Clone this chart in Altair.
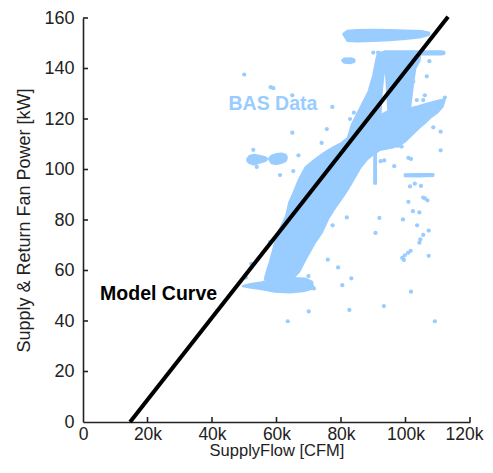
import altair as alt
import pandas as pd

BLUE = "#99ccff"
INK = "#222222"
FONT = "Liberation Sans"
W, H = 387, 404

# ---- scattered BAS readings (x in thousands of CFM, y in kW) ----
pts_x = [50.0, 58.2, 59.0, 64.9, 77.3, 75.6, 64.9, 52.8, 66.8, 61.1, 65.2, 53.9, 74.0,
         90.0, 91.5,
         107.4, 102.4, 106.6, 100.9, 102.4, 106.0, 112.2, 103.5, 105.5,
         108.6, 110.9, 110.9, 98.8, 97.7, 100.9, 101.7, 96.5, 92.3, 93.4,
         101.4, 102.9, 104.8, 105.5, 106.0, 106.8, 100.9, 102.3, 104.3,
         81.8, 91.9, 99.2, 103.6, 77.4, 90.7,
         107.2, 105.5, 104.6, 104.3,
         107.2, 99.0, 99.8, 100.8, 101.6, 99.5,
         75.9, 79.1, 69.9, 71.6, 83.2, 80.4, 101.7,
         93.3, 82.6, 70.0, 63.5, 109.1,
         52.2, 50.5, 58.0,
         82.8, 84.0, 86.0, 87.5, 85.0, 88.3]
pts_y = [137.6, 132.6, 132.2, 129.4, 124.8, 116.0, 114.6, 107.8, 105.6, 97.8, 99.4, 101.0, 110.5,
         146.3, 146.3,
         142.9, 138.8, 136.9, 134.9, 134.9, 129.4, 128.5, 127.5, 127.5,
         116.7, 115.0, 107.6, 109.1, 109.4, 104.6, 104.2, 101.3, 103.3, 103.6,
         93.3, 94.4, 93.5, 88.9, 88.6, 87.8, 87.2, 83.5, 83.0,
         81.0, 80.8, 80.2, 77.9, 77.9, 74.9,
         75.8, 74.1, 72.3, 71.0,
         65.8, 65.0, 66.0, 67.0, 67.8, 64.2,
         64.3, 61.2, 57.8, 52.9, 56.9, 54.2, 51.6,
         45.9, 44.4, 43.8, 39.9, 39.9,
         62.6, 57.2, 71.3,
         120.0, 122.5, 121.5, 123.5, 118.5, 120.3]

# ---- dense regions of BAS readings: x (k CFM) with lower / upper kW bounds ----
band_x = [56.5, 57, 58, 59.5, 61, 63, 64, 65, 67, 69, 72, 74, 76, 78, 80, 82, 84, 86, 88, 90,
          92, 94, 96, 98, 100, 102, 104, 106, 108, 110, 111.5, 112.2]
band_lo = [56.5, 56, 56, 56, 56.5, 56.7, 56.8, 56.9, 59.5, 64.5, 71.3, 75, 80.5, 84.6, 88.2, 92,
           96.4, 100.8, 104, 106, 107.8, 108.3, 108.8, 109.6, 111.3, 113.8, 116.3, 118.5, 120.9,
           122.8, 125, 128]
band_hi = [57, 59.5, 63.4, 70.6, 76.2, 81.5, 87, 89.8, 96, 100.8, 104, 105.8, 107.5, 109, 110.3,
           112.3, 115, 116, 117.5, 119, 121.3, 122.7, 123.5, 123.8, 124.1, 124.4, 125, 125.8,
           126.5, 127.2, 127.6, 128]

spike_x = [81.8, 83.3, 85.9, 88.5, 90, 91, 91.5, 92.1, 92.6, 93.0, 93.6]
spike_lo = [110, 111, 112.8, 114.8, 116, 117.5, 118.2, 119, 131, 136, 141]
spike_hi = [111, 117.5, 124.1, 130.6, 137.1, 143.6, 146, 146.3, 146.4, 146.5, 146.5]

mass_x = [93.6, 94.0, 94.7, 96, 99, 101.4, 102.4, 103, 104.3, 104.5, 111, 112]
mass_lo = [144, 138, 123.5, 123.5, 123.5, 124.5, 135, 140, 143, 145.6, 145.6, 145.8]
mass_hi = [146.8, 146.8, 146.8, 146.8, 146.8, 146.8, 146.8, 146.8, 146.8, 146.8, 146.8, 146.6]

top_x = [80.8, 82, 85, 90, 95, 100, 105, 107.2, 107.4]
top_lo = [153.5, 151, 150.8, 151, 151.3, 151.8, 152.5, 153.3, 153.8]
top_hi = [153.8, 154.9, 155.2, 155.3, 155.2, 155.0, 154.8, 154.2, 153.8]

low_x = [49.6, 52, 55.5, 59.5, 64.2, 68.8, 71.0, 71.3]
low_lo = [53.8, 53.2, 52.6, 51.7, 51.4, 52.0, 52.8, 53.5]
low_hi = [53.8, 54.6, 55.3, 56.8, 57.0, 56.8, 55.5, 53.5]

c143_x = [80.4, 81, 83, 84, 84.2]
c143_lo = [143.2, 142.4, 142.2, 142.6, 143.2]
c143_hi = [143.2, 143.9, 144.0, 143.6, 143.2]

blobA_x = [51.0, 51.6, 53.0, 55.0, 56.5, 57.0]
blobA_lo = [103.4, 102.6, 102.0, 102.8, 103.4, 104.0]
blobA_hi = [104.2, 105.3, 105.8, 105.3, 104.8, 104.2]

blobB_x = [57.8, 58.5, 60.0, 61.5, 62.8, 63.1]
blobB_lo = [104.0, 102.5, 102.2, 102.6, 103.4, 104.3]
blobB_hi = [104.4, 105.4, 106.1, 106.3, 105.8, 105.0]

vert_x = [90.35, 90.8]
vert_lo = [94.4, 94.4]
vert_hi = [106.4, 106.4]

s97_x = [99.8, 104, 108.6]
s97_lo = [97.4, 97.3, 97.5]
s97_hi = [98.0, 98.1, 98.1]

regions = {"band": (band_x, band_lo, band_hi), "spike": (spike_x, spike_lo, spike_hi),
           "mass": (mass_x, mass_lo, mass_hi), "top": (top_x, top_lo, top_hi),
           "low": (low_x, low_lo, low_hi), "c143": (c143_x, c143_lo, c143_hi),
           "blobA": (blobA_x, blobA_lo, blobA_hi), "blobB": (blobB_x, blobB_lo, blobB_hi),
           "vert": (vert_x, vert_lo, vert_hi), "s97": (s97_x, s97_lo, s97_hi)}

# ---- model curve ----
model_x = [14.6, 113.2]
model_y = [0, 160.5]

# ---- axes ----
x_ticks = [0, 20, 40, 60, 80, 100, 120]
y_ticks = [0, 20, 40, 60, 80, 100, 120, 140, 160]

# ---- annotations ----
ann_text = ["BAS Data", "Model Curve"]
ann_x = [58.9, 5.3]
ann_y = [125.9, 50.6]

rows = []
for name, (rx, rlo, rhi) in regions.items():
    for a, b, c in zip(rx, rlo, rhi):
        rows.append({"region": name, "x": a, "lo": b, "hi": c})
reg_df = pd.DataFrame(rows)
pts_df = pd.DataFrame({"x": pts_x, "y": pts_y})
model_df = pd.DataFrame({"x": model_x, "y": model_y})

xs = alt.Scale(domain=[0, 120], nice=False, zero=False)
ys = alt.Scale(domain=[0, 160], nice=False, zero=False)

x_axis = alt.Axis(values=x_ticks, labelExpr="datum.value == 0 ? '0' : datum.value + 'k'",
                  title="SupplyFlow [CFM]", ticks=False, grid=False,
                  domainColor=INK, domainWidth=1.6, labelColor=INK, titleColor=INK,
                  labelFont=FONT, titleFont=FONT, labelFontSize=17.5, titleFontSize=16.5,
                  titleFontWeight="normal", labelPadding=3, labelFlush=False,
                  labelOffset={"condition": {"test": "datum.value == 120", "value": -6}, "value": 0},
                  titleBaseline="alphabetic", titleY=33.8)
y_axis = alt.Axis(values=y_ticks, title="Supply & Return Fan Power [kW]", ticks=False, grid=False,
                  domainColor=INK, domainWidth=1.6, labelColor=INK, titleColor=INK,
                  labelFont=FONT, titleFont=FONT, labelFontSize=18, titleFontSize=18,
                  titleFontWeight="normal", labelPadding=9, titlePadding=10, labelFlush=False)

areas = alt.Chart(reg_df).mark_area(color=BLUE, stroke=BLUE, strokeWidth=2.4,
                                    strokeJoin="round", opacity=1).encode(
    x=alt.X("x:Q", scale=xs, axis=x_axis),
    y=alt.Y("lo:Q", scale=ys, axis=y_axis),
    y2="hi:Q",
    detail="region:N")

points = alt.Chart(pts_df).mark_circle(color=BLUE, opacity=1, size=18).encode(
    x=alt.X("x:Q", scale=xs), y=alt.Y("y:Q", scale=ys))

model = alt.Chart(model_df).mark_line(color="black", strokeWidth=4, strokeCap="butt").encode(
    x=alt.X("x:Q", scale=xs), y=alt.Y("y:Q", scale=ys))

xt = alt.Chart(pd.DataFrame({"x": x_ticks[1:]})).mark_rule(color=INK, strokeWidth=1.6).encode(
    x=alt.X("x:Q", scale=xs), y=alt.value(H), y2=alt.value(H - 5))
yt = alt.Chart(pd.DataFrame({"y": y_ticks[1:]})).mark_rule(color=INK, strokeWidth=1.6).encode(
    y=alt.Y("y:Q", scale=ys), x=alt.value(0), x2=alt.value(5))

ann_df = pd.DataFrame({"x": ann_x, "y": ann_y, "t": ann_text})
lab_bas = alt.Chart(ann_df.iloc[[0]]).mark_text(
    font=FONT, fontSize=19.5, fontWeight="bold", color=BLUE, align="center", baseline="middle").encode(
    x=alt.X("x:Q", scale=xs), y=alt.Y("y:Q", scale=ys), text="t:N")
lab_model = alt.Chart(ann_df.iloc[[1]]).mark_text(
    font=FONT, fontSize=19.5, fontWeight="bold", color="black", align="left", baseline="middle").encode(
    x=alt.X("x:Q", scale=xs), y=alt.Y("y:Q", scale=ys), text="t:N")

chart = alt.layer(areas, points, model, xt, yt, lab_bas, lab_model).properties(
    width=W, height=H, autosize="none",
    padding={"left": 75, "top": 10, "right": 15, "bottom": 37},
).configure_view(stroke=None)

chart.save("out.html", embed_options={"renderer": "svg", "actions": False})
